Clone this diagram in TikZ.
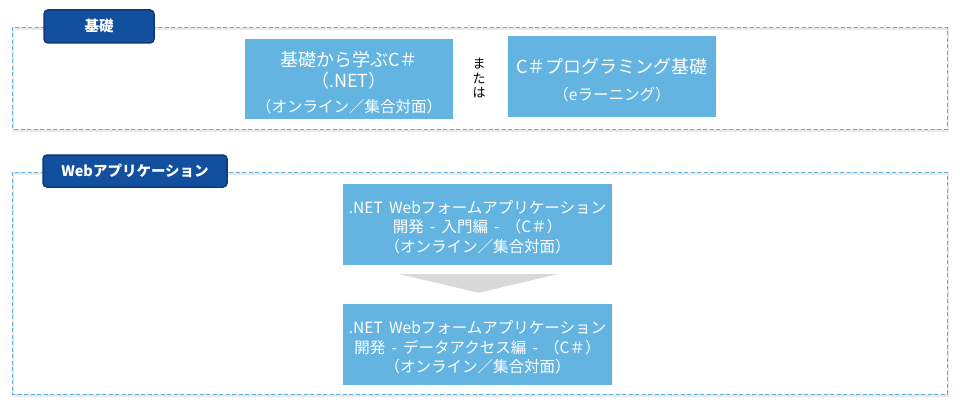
\documentclass[tikz,border=0pt]{standalone}
\usepackage{fontspec}
\setmainfont{Noto Sans CJK JP}
\usetikzlibrary{calc}
\definecolor{boxblue}{HTML}{63B4E0}
\definecolor{labfill}{HTML}{134F9F}
\definecolor{labdraw}{HTML}{0C3A78}
\definecolor{dashblue}{HTML}{5DB2E0}
\definecolor{arrowgray}{HTML}{D9D9D9}
\definecolor{shadowgray}{HTML}{EAEAEA}
\tikzset{
  course/.style={fill=boxblue, inner sep=0pt},
  coursetext/.style={text=white, align=center, inner sep=0pt},
  bigtext/.style={font=\fontsize{18}{21}\selectfont},
  midtext/.style={font=\fontsize{15.5}{19.5}\selectfont},
  grouplabel/.style={fill=labfill, draw=labdraw, line width=1.5pt, rounded corners=4pt,
    text=white, font=\bfseries\fontsize{14.5}{17}\selectfont, inner sep=0pt},
  frameshadow/.style={draw=shadowgray, line width=2.5pt},
  framedash/.style={draw=dashblue, line width=0.9pt, dash pattern=on 4pt off 2.5pt},
}
\newcommand{\midline}{\fontsize{15.5}{19}\selectfont}
\newcommand{\wsp}{\hspace{0.4em}}
\begin{document}
\begin{tikzpicture}[x=1pt,y=-1pt]
\useasboundingbox (0,0) rectangle (960,409);
% frames
\coordinate (f1a) at (12,27); \coordinate (f1b) at (947,129);
\coordinate (f2a) at (12,172); \coordinate (f2b) at (947,394);
\draw[frameshadow] ($(f1a)+(1,1.5)$) rectangle ($(f1b)+(1,1.5)$);
\draw[framedash] (f1a) rectangle (f1b);
\draw[frameshadow] ($(f2a)+(1,1.5)$) rectangle ($(f2b)+(1,1.5)$);
\draw[framedash] (f2a) rectangle (f2b);
% labels
\node[grouplabel, minimum width=110pt, minimum height=33pt] (lab1) at (99,26.5) {基礎};
\node[grouplabel, minimum width=184pt, minimum height=32pt] (lab2) at (135,171) {Webアプリケーション};
% courses
\node[course, minimum width=208pt, minimum height=80pt] (b1) at (349,79) {};
\node[coursetext, bigtext] (b1t) at ($(b1.center)+(0,3.5)$)
  {基礎から学ぶC＃\\ （.NET）\\[4pt] \midline （オンライン／集合対面）};
\node[course, minimum width=208pt, minimum height=81pt] (b2) at (612,76.5) {};
\node[coursetext, bigtext] (b2t) at ($(b2.center)+(0,3.5)$)
  {C＃プログラミング基礎\\[6pt] \midline （eラーニング）};
\node[font=\fontsize{13}{14.5}\selectfont, align=center, inner sep=0pt] (or) at (479,78.5) {ま\\た\\は};
\node[course, minimum width=269pt, minimum height=81pt] (b3) at (477.5,224.5) {};
\node[coursetext, midtext] (b3t) at ($(b3.center)+(0,2.5)$)
  {.NET\wsp Webフォームアプリケーション\\ 開発\wsp-\wsp 入門編\wsp-\wsp（C＃）\\ （オンライン／集合対面）};
\node[course, minimum width=269pt, minimum height=81pt] (b4) at (477.5,344.5) {};
\node[coursetext, midtext] (b4t) at ($(b4.center)+(0,3)$)
  {.NET\wsp Webフォームアプリケーション\\ 開発\wsp-\wsp データアクセス編\wsp-\wsp（C＃）\\ （オンライン／集合対面）};
% arrow
\fill[arrowgray] ($(b3.south)+(-78,9)$) -- ($(b3.south)+(79.5,9)$) -- ($(b4.north)+(1.5,-11)$) -- cycle;
\end{tikzpicture}
\end{document}
